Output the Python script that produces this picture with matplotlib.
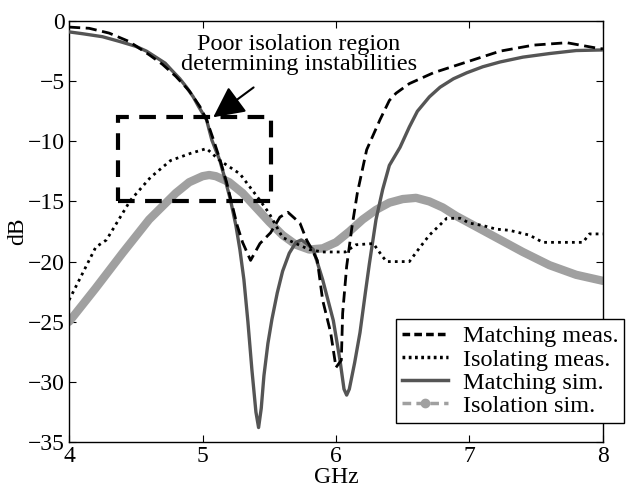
import matplotlib
matplotlib.use("Agg")
import matplotlib.pyplot as plt
from matplotlib.lines import Line2D
from matplotlib.patches import Rectangle

# Matching meas. (dashed black)
mm_x = [4.0, 4.15, 4.3, 4.45, 4.6, 4.7, 4.8, 4.9, 4.98, 5.03, 5.08, 5.13, 5.18, 5.22, 5.26, 5.3, 5.36,
        5.43, 5.51, 5.58, 5.64, 5.73, 5.78, 5.82, 5.86, 5.9, 5.96, 6.0, 6.04, 6.05, 6.08, 6.12, 6.16,
        6.23, 6.33, 6.4, 6.45, 6.55, 6.73, 6.98, 7.23, 7.48, 7.73, 7.98, 8.0]
mm_y = [-0.5, -0.6, -1.0, -1.7, -2.8, -3.6, -4.6, -5.8, -7.1, -8.2, -9.8, -11.5, -13.4, -15.2, -17.0, -18.4, -19.9,
        -18.5, -17.6, -16.3, -15.9, -16.8, -18.2, -19.0, -19.9, -23.2, -25.9, -28.8, -28.2, -24.3, -20.4, -17.1, -14.3,
        -10.7, -8.2, -6.6, -6.0, -5.2, -4.3, -3.4, -2.5, -2.0, -1.8, -2.3, -2.3]

# Isolating meas. (dotted black)
im_x = [4.0, 4.1, 4.2, 4.28, 4.46, 4.61, 4.76, 4.91, 5.03, 5.13, 5.28, 5.43, 5.5, 5.55, 5.6,
        5.7, 5.8, 5.9, 6.07, 6.15, 6.28, 6.35, 6.38, 6.55, 6.63, 6.7, 6.83, 6.93, 7.0, 7.1, 7.2,
        7.3, 7.45, 7.55, 7.85, 7.9, 8.0]
im_y = [-23.2, -21.0, -18.8, -18.2, -14.9, -13.0, -11.6, -11.0, -10.6, -11.6, -12.7, -14.9, -16.0, -17.0, -18.0,
        -18.5, -19.0, -19.2, -19.2, -18.6, -18.5, -19.6, -20.0, -20.0, -18.8, -17.8, -16.4, -16.4, -16.8, -17.0, -17.3,
        -17.4, -17.8, -18.4, -18.4, -17.7, -17.7]

# Matching sim. (solid dark gray)
ms_x = [4.0, 4.1, 4.25, 4.38, 4.5, 4.58, 4.65, 4.72, 4.77, 4.83, 4.88, 4.93, 4.97, 5.03, 5.07, 5.13,
        5.17, 5.21, 5.25, 5.28, 5.31, 5.34, 5.37, 5.4, 5.42, 5.44, 5.46, 5.49, 5.52, 5.56, 5.6,
        5.65, 5.7, 5.74, 5.78, 5.83, 5.9, 5.98, 6.03, 6.06, 6.08, 6.1, 6.14, 6.18, 6.22, 6.25,
        6.3, 6.35, 6.4, 6.48, 6.55, 6.61, 6.7, 6.78, 6.88, 6.98, 7.1, 7.23, 7.4, 7.6, 7.8, 8.0]
ms_y = [-0.9, -1.05, -1.3, -1.7, -2.1, -2.5, -3.0, -3.5, -4.1, -4.8, -5.5, -6.3, -7.1, -8.2, -9.9, -11.6,
        -13.2, -14.9, -17.0, -19.0, -21.5, -25.0, -29.0, -32.5, -33.8, -32.2, -29.5, -26.8, -24.8, -22.6, -20.8,
        -19.3, -18.4, -18.2, -18.5, -19.0, -21.5, -24.9, -28.2, -30.6, -31.1, -30.6, -28.4, -25.9, -22.6, -20.2,
        -16.5, -14.0, -12.0, -10.5, -8.8, -7.5, -6.3, -5.5, -4.8, -4.3, -3.8, -3.4, -3.0, -2.7, -2.45, -2.4]

# Isolation sim. (thick gray with markers)
is_x = [4.0, 4.2, 4.4, 4.6, 4.8, 4.9, 5.0, 5.05, 5.1, 5.2, 5.3, 5.4, 5.5, 5.6, 5.7,
        5.8, 5.9, 6.0, 6.1, 6.2, 6.3, 6.4, 6.5, 6.6, 6.7, 6.8, 6.9, 7.0, 7.2, 7.4,
        7.6, 7.8, 8.0]
is_y = [-25.0, -22.2, -19.3, -16.5, -14.3, -13.4, -12.9, -12.8, -12.9, -13.4, -14.3, -15.5, -16.7, -17.8, -18.6,
        -19.0, -18.9, -18.4, -17.5, -16.5, -15.7, -15.1, -14.8, -14.7, -15.0, -15.5, -16.2, -16.8, -18.0, -19.2,
        -20.3, -21.1, -21.6]

plt.rcParams['font.family'] = ['Liberation Serif', 'DejaVu Serif']

fig = plt.figure(figsize=(6.28, 4.9), dpi=100)
ax = fig.add_axes([0.110, 0.098, 0.850, 0.859])

gray_iso = '#a0a0a0'
ax.plot(is_x, is_y, color=gray_iso, linewidth=6, solid_capstyle='round', zorder=2)
ax.plot(ms_x, ms_y, color='#555555', linewidth=2.4, zorder=3)
ax.plot(im_x, im_y, color='black', linewidth=2.0, linestyle=(0, (1, 1.5)), zorder=4)
ax.plot(mm_x, mm_y, color='black', linewidth=2.0, linestyle=(0, (4, 2)), zorder=5)

# region box
ax.add_patch(Rectangle((4.37, -15.0), 5.51 - 4.37, 7.0, fill=False, edgecolor='black',
                       linewidth=3, linestyle=(0, (4, 2.5)), zorder=6))
ax.annotate('Poor isolation region\ndetermining instabilities', xy=(5.08, -8.0), xytext=(5.72, -2.75),
            ha='center', va='center', fontsize=17.5, linespacing=0.95,
            arrowprops=dict(arrowstyle='-|>,head_length=1.1,head_width=0.55', color='black', lw=1.5,
                            shrinkA=12, shrinkB=0))

ax.set_xlim(4, 8)
ax.set_ylim(-35, 0)
ax.set_xticks([4, 5, 6, 7, 8])
ax.set_yticks([-35, -30, -25, -20, -15, -10, -5, 0])
ax.tick_params(direction='in', top=True, right=True, labelsize=17, length=5, pad=3)
for s in ax.spines.values():
    s.set_linewidth(1.0)
ax.set_xlabel('GHz', fontsize=17, labelpad=0)
ax.set_ylabel('dB', fontsize=17, labelpad=0)

handles = [
    Line2D([], [], color='black', linewidth=2.5, linestyle=(0, (2.2, 1.2))),
    Line2D([], [], color='black', linewidth=2.5, linestyle=(0, (0.8, 1.0))),
    Line2D([], [], color='#555555', linewidth=2.5),
    Line2D([], [], color=gray_iso, linewidth=2.5, linestyle=(0, (2.5, 1.5)), marker='o', markersize=6),
]
labels = ['Matching meas.', 'Isolating meas.', 'Matching sim.', 'Isolation sim.']
leg = ax.legend(handles, labels, loc='lower right', bbox_to_anchor=(1.04, 0.045), borderaxespad=0,
                fontsize=17.5, fancybox=False, framealpha=1, edgecolor='black', labelspacing=0.05,
                handlelength=1.9, handletextpad=0.6, borderpad=0.25)
leg.get_frame().set_linewidth(1.0)
leg.set_zorder(10)

fig.savefig('out.png', dpi=100)
